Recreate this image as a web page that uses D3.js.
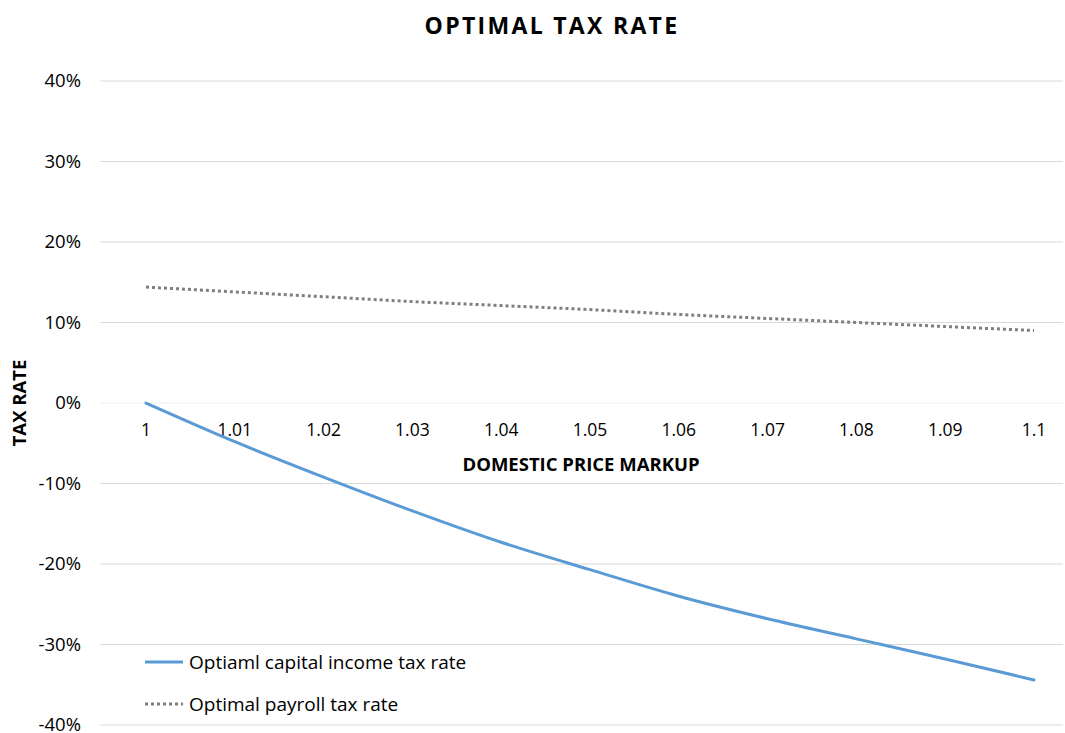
<!DOCTYPE html>
<html><head><meta charset="utf-8">
<script src="https://cdn.jsdelivr.net/npm/d3@7"></script>
<style>body{margin:0;background:#fff}svg{display:block}text{font-family:"Open Sans",Lato,sans-serif;fill:#000}</style>
</head><body><svg id="c" width="1065" height="733"></svg>
<script>
const markup = [1, 1.01, 1.02, 1.03, 1.04, 1.05, 1.06, 1.07, 1.08, 1.09, 1.1];
const capitalTax = [0, -4.8, -9.2, -13.4, -17.3, -20.7, -24.0, -26.8, -29.3, -31.8, -34.4];
const payrollTax = [14.4, 13.8, 13.2, 12.6, 12.1, 11.6, 11.0, 10.5, 10.0, 9.5, 9.0];
const yTicks = [40, 30, 20, 10, 0, -10, -20, -30, -40];
const xTickLabels = ["1","1.01","1.02","1.03","1.04","1.05","1.06","1.07","1.08","1.09","1.1"];
const seriesNames = ["Optiaml capital income tax rate", "Optimal payroll tax rate"];

const svg = d3.select("#c");
const x = d3.scaleLinear().domain([1, 1.1]).range([146, 1034]);
const y = d3.scaleLinear().domain([-40, 40]).range([725, 81]);

svg.append("text").attr("x", 552).attr("y", 34).attr("text-anchor", "middle")
  .style("font-size", "23px").style("font-weight", "bold").style("letter-spacing", "2.3px")
  .text("OPTIMAL TAX RATE");

// gridlines
svg.append("g").selectAll("line").data(yTicks).join("line")
  .attr("x1", 100).attr("x2", 1063)
  .attr("y1", d => y(d)).attr("y2", d => y(d))
  .attr("stroke", d => d === 0 ? "#f0f0f0" : "#d9d9d9").attr("stroke-width", 1.2);

// y tick labels
svg.append("g").selectAll("text").data(yTicks).join("text")
  .attr("x", 81).attr("y", d => y(d)).attr("dy", "0.35em").attr("text-anchor", "end")
  .style("font-size", "18.5px").text(d => d + "%");

// x tick labels
svg.append("g").selectAll("text").data(markup).join("text")
  .attr("x", d => x(d)).attr("y", 436).attr("text-anchor", "middle")
  .style("font-size", "17.5px").text((d, i) => xTickLabels[i]);

svg.append("text").attr("x", 581).attr("y", 471).attr("text-anchor", "middle")
  .style("font-size", "18.5px").style("font-weight", "bold").text("DOMESTIC PRICE MARKUP");

svg.append("text").attr("transform", "translate(26,403) rotate(-90)").attr("text-anchor", "middle")
  .style("font-size", "18.5px").style("font-weight", "bold").text("TAX RATE");

const line = d3.line().x(d => x(d[0])).y(d => y(d[1])).curve(d3.curveMonotoneX);
svg.append("path").datum(markup.map((m, i) => [m, payrollTax[i]]))
  .attr("d", line).attr("fill", "none").attr("stroke", "#7f7f7f")
  .attr("stroke-width", 3).attr("stroke-dasharray", "3,3");
svg.append("path").datum(markup.map((m, i) => [m, capitalTax[i]]))
  .attr("d", line).attr("fill", "none").attr("stroke", "#5b9bd5")
  .attr("stroke-width", 3).attr("stroke-linecap", "round");

// legend
const lg = svg.append("g");
const styles = [{c:"#5b9bd5", dash:null}, {c:"#7f7f7f", dash:"3,3"}];
seriesNames.forEach((n, i) => {
  const ly = 662 + i * 42;
  lg.append("line").attr("x1", 145).attr("x2", 183).attr("y1", ly).attr("y2", ly)
    .attr("stroke", styles[i].c).attr("stroke-width", 3).attr("stroke-dasharray", styles[i].dash);
  lg.append("text").attr("x", 189).attr("y", ly).attr("dy", "0.35em")
    .style("font-size", "19px").text(n);
});
</script></body></html>
